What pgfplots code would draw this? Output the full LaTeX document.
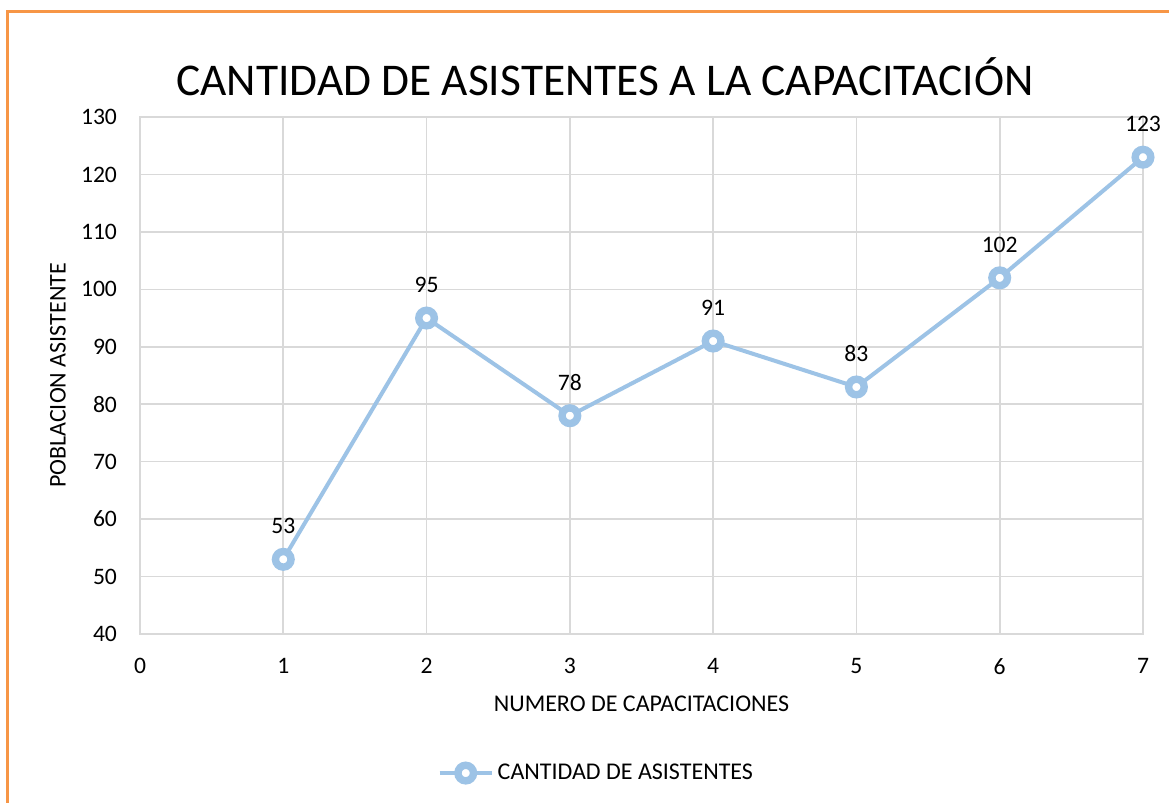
\documentclass[border=0pt]{standalone}
\usepackage{fontspec}
\setmainfont{Carlito}
\usepackage{pgfplots}
\pgfplotsset{compat=1.18}

\definecolor{serie}{RGB}{157,195,230}
\definecolor{rejilla}{RGB}{217,217,217}
\definecolor{marco}{RGB}{247,150,70}

\begin{document}
\begin{tikzpicture}
  \useasboundingbox (-70pt,-84.5pt) rectangle (514.5pt,317pt);
  \fill[white] (-70pt,-84.5pt) rectangle (514.5pt,317pt);
  \draw[marco, line width=1.5pt] (-66pt,-84.5pt) -- (-66pt,311pt) -- (514.5pt,311pt);
  \begin{axis}[
      scale only axis,
      width=501.5pt, height=258.5pt,
      xmin=0, xmax=7, ymin=40, ymax=130,
      xtick={0,...,7}, ytick={40,50,...,130},
      grid=major, grid style={rejilla, line width=0.8pt},
      axis line style={rejilla, line width=0.8pt},
      major tick length=0pt,
      tick label style={font=\fontsize{11.8}{14}\selectfont},
      /pgf/number format/assume math mode=true,
      xticklabel style={yshift=-8.5pt},
      yticklabel style={xshift=-8pt},
      xlabel={NUMERO DE CAPACITACIONES},
      ylabel={POBLACION ASISTENTE},
      label style={font=\fontsize{12}{14}\selectfont},
      xlabel style={at={(axis description cs:0.5,-0.1354)}, anchor=center},
      ylabel style={at={(axis description cs:-0.0818,0.5)}, anchor=center},
      clip=false,
      legend style={at={(0.456,-0.269)}, anchor=center, draw=none,
        font=\fontsize{12}{14}\selectfont, fill=none},
      legend image code/.code={
        \draw[#1, mark repeat=2, mark phase=2]
          plot coordinates {(0pt,0pt) (13pt,0pt) (26pt,0pt)};
      },
      nodes near coords,
      every node near coord/.style={anchor=center, yshift=16.5pt,
        font=\fontsize{11.8}{14}\selectfont, text=black},
    ]
    \addplot[serie, line width=2pt, mark=*,
      mark size=3.9pt, mark options={line width=3.7pt, solid, draw=serie, fill=white}]
      coordinates {(1,53) (2,95) (3,78) (4,91) (5,83) (6,102) (7,123)};
    \legend{CANTIDAD DE ASISTENTES}
    \node[font=\fontsize{22.7}{27}\selectfont, anchor=center]
      at (axis cs:3.245,130) [yshift=20pt] {CANTIDAD DE ASISTENTES A LA CAPACITACIÓN};
  \end{axis}
\end{tikzpicture}
\end{document}
